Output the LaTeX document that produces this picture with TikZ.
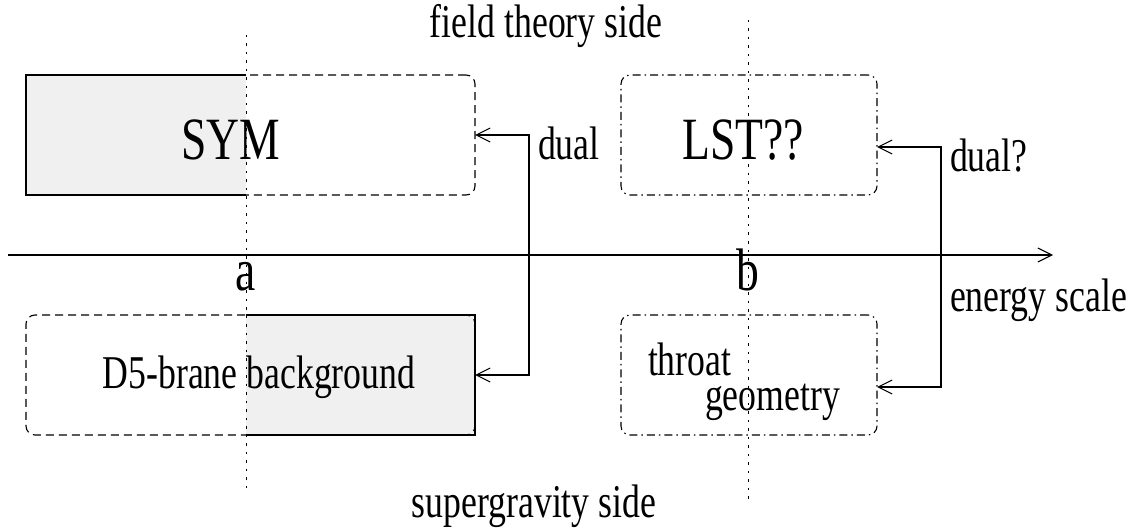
\documentclass[tikz,border=0pt]{standalone}
\usepackage{fontspec}
\usepackage{graphicx}
\setmainfont{Liberation Serif}
\usetikzlibrary{arrows.meta}

% narrow set text, as in the original figure
\newcommand{\nartext}[1]{\scalebox{0.76}[1]{#1}}
\newcommand{\bigtxt}{\fontsize{60}{70}\selectfont}
\newcommand{\smalltxt}{\fontsize{47}{55}\selectfont}

\tikzset{
  every node/.style={inner sep=0pt, outer sep=0pt},
  regionbox/.style={rounded corners=9pt, line width=1.1pt},
  dashbox/.style={regionbox, dash pattern=on 8pt off 5pt},
  dotdashbox/.style={regionbox, dash pattern=on 8pt off 4pt on 1.5pt off 4pt},
  graypart/.style={fill=black!6},
  solidedge/.style={line width=1.1pt},
  scaleline/.style={line width=1pt, dash pattern=on 2.5pt off 6pt},
  conn/.style={line width=1.1pt, {Straight Barb[length=14pt,width=14pt,line width=1.1pt]}-{Straight Barb[length=14pt,width=14pt,line width=1.1pt]}},
  axis/.style={line width=1.1pt, -{Straight Barb[length=14pt,width=14pt,line width=1.1pt]}},
  bigtext/.style={font=\bigtxt, anchor=base},
  label/.style={font=\smalltxt, anchor=base},
}

\begin{document}
\begin{tikzpicture}[x=1pt, y=-1pt]
\useasboundingbox (0,0) rectangle (1139,529);

% gray halves and region boxes
\node (sym) [dashbox, draw, minimum width=449pt, minimum height=120pt] at (250.5,135) {};
\fill[graypart] (26,75) rectangle (246,195);
\draw[solidedge] (246,75) -- (26,75) -- (26,195) -- (246,195);

\fill[graypart] (246,315) rectangle (475,435);
\draw[solidedge] (246,315) -- (475,315) -- (475,435) -- (246,435);
\node (d5) [dashbox, draw, minimum width=449pt, minimum height=120pt] at (250.5,375) {};

\node (lst) [dotdashbox, draw, minimum width=256pt, minimum height=120pt] at (749,135) {};
\node (throat) [dotdashbox, draw, minimum width=256pt, minimum height=120pt] at (749,375) {};

% energy scale axis and the two scales a, b
\coordinate (axstart) at (8,255);
\coordinate (axend) at (1053,255);
\draw[axis] (axstart) -- (axend);

\coordinate (atop) at (246,35);
\coordinate (abot) at (246,490);
\coordinate (btop) at (748,20);
\coordinate (bbot) at (748,500);
\draw[scaleline] (atop) -- (abot);
\draw[scaleline] (btop) -- (bbot);

% box texts
\node[bigtext] (symtxt) at (231,160) {\nartext{SYM}};
\node[bigtext] (lsttxt) at (743,160) {\nartext{LST??}};
\node[label] (d5txt) at (259,388) {\nartext{D5-brane background}};
\node[label, anchor=base west] (throattxt) at (648,375) {\nartext{throat}};
\node[label, anchor=base west] (geomtxt) at (705,410) {\nartext{geometry}};

\node[bigtext] (alabel) at (246,290) {\nartext{a}};
\node[bigtext] (blabel) at (748,290) {\nartext{b}};

% dualities
\coordinate (jl) at (529,255);
\coordinate (jr) at (941,255);
\draw[conn] (sym.east) -| (jl) |- (d5.east);
\draw[conn] ([yshift=-12pt]lst.east) -| (jr) |- ([yshift=-12pt]throat.east);

\node[label, anchor=base west] (dualtxt) at (538,160) {\nartext{dual}};
\node[label, anchor=base west] (dualqtxt) at (950,172) {\nartext{dual?}};
\node[label, anchor=base west] (energytxt) at (950,311) {\nartext{energy scale}};

\node[label] (fieldtxt) at (546,38) {\nartext{field theory side}};
\node[label] (sugratxt) at (534,517) {\nartext{supergravity side}};
\end{tikzpicture}
\end{document}
